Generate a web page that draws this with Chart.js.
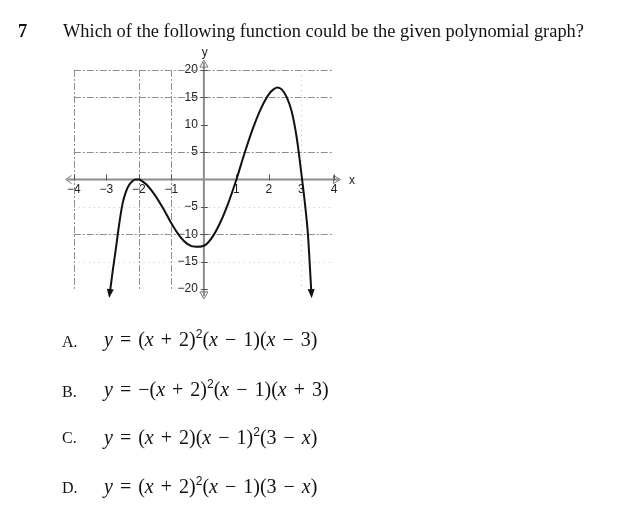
<!DOCTYPE html>
<html><head><meta charset="utf-8">
<script src="https://cdn.jsdelivr.net/npm/chart.js@4.4.1/dist/chart.umd.min.js"></script>
<style>
html,body{margin:0;padding:0;background:#fff;}
body{width:620px;height:529px;position:relative;overflow:hidden;font-family:"Liberation Serif","Times New Roman",serif;color:#111;}
#c{position:absolute;left:0;top:0;}
.t{position:absolute;white-space:nowrap;}
.q{font-size:18.4px;line-height:18px;}
.opt{font-size:16px;line-height:18px;}
.f{font-size:20px;line-height:20px;}
.f i{font-style:italic;}
.f b{font-weight:normal;margin:0 2px;}
.f sup{font-size:12px;line-height:0;vertical-align:8px;font-family:"Liberation Sans",sans-serif;}
</style>
</head><body>
<canvas id="c" width="620" height="529"></canvas>
<div class="t q" style="left:18px;top:22px;font-weight:bold;">7</div>
<div class="t q" style="left:63px;top:22px;">Which of the following function could be the given polynomial graph?</div>

<div class="t opt" style="left:62px;top:333px;">A.</div>
<div class="t f" style="left:104px;top:329px;"><i>y</i> <b>=</b> (<i>x</i> <b>+</b> 2)<sup>2</sup>(<i>x</i> <b>−</b> 1)(<i>x</i> <b>−</b> 3)</div>
<div class="t opt" style="left:62px;top:383px;">B.</div>
<div class="t f" style="left:104px;top:379px;"><i>y</i> <b>=</b> −(<i>x</i> <b>+</b> 2)<sup>2</sup>(<i>x</i> <b>−</b> 1)(<i>x</i> <b>+</b> 3)</div>
<div class="t opt" style="left:62px;top:429px;">C.</div>
<div class="t f" style="left:104px;top:427px;"><i>y</i> <b>=</b> (<i>x</i> <b>+</b> 2)(<i>x</i> <b>−</b> 1)<sup>2</sup>(3 <b>−</b> <i>x</i>)</div>
<div class="t opt" style="left:62px;top:479px;">D.</div>
<div class="t f" style="left:104px;top:476px;"><i>y</i> <b>=</b> (<i>x</i> <b>+</b> 2)<sup>2</sup>(<i>x</i> <b>−</b> 1)(3 <b>−</b> <i>x</i>)</div>

<script>
// Curve points
const curveX = [-2.88, -2.8, -2.7, -2.6, -2.5, -2.4, -2.3, -2.2, -2.1, -2, -1.9, -1.75, -1.5, -1.25, -1, -0.75, -0.5, -0.25, 0, 0.25, 0.5, 0.75, 1, 1.25, 1.5, 1.75, 2, 2.15, 2.27, 2.4, 2.55, 2.7, 2.85, 2.95, 3.02, 3.1, 3.2, 3.3];
const curveY = [-20.2, -16.6, -12.4, -8.0, -4.4, -2.3, -1.0, -0.3, 0, 0, -0.3, -1.0, -2.9, -5.3, -8.0, -10.3, -11.8, -12.3, -12.1, -10.6, -7.9, -4.3, 0, 4.8, 9.2, 12.9, 15.6, 16.5, 16.8, 16.4, 15.0, 12.4, 7.8, 3.4, 0, -4.0, -10.1, -20.2];
// Tick labels
const xTicks = [-4, -3, -2, -1, 1, 2, 3, 4];
const yTicks = [-20, -15, -10, -5, 5, 10, 15, 20];
// Grid lines that appear in the picture
const gridYMain = [20, 15, 5, -10];
const gridYFaint = [-15, -5];
const gridXMain = [-4, -2, -1];
const gridXFaint = [3];

const fmt = v => (v < 0 ? '\u2212' + (-v) : String(v));
const pts = curveX.map((x, i) => ({x, y: curveY[i]}));

const axesPlugin = {
  id: 'axesPlugin',
  beforeDatasetsDraw(chart) {
    const {ctx, scales: {x, y}} = chart;
    const px = v => x.getPixelForValue(v), py = v => y.getPixelForValue(v);
    ctx.save();
    // faint grid
    ctx.strokeStyle = '#c4c4c4'; ctx.lineWidth = 1; ctx.setLineDash([1, 4]);
    gridYFaint.forEach(v => { ctx.beginPath(); ctx.moveTo(px(-4), Math.round(py(v)) + 0.5); ctx.lineTo(px(4), Math.round(py(v)) + 0.5); ctx.stroke(); });
    gridXFaint.forEach(v => { ctx.beginPath(); ctx.moveTo(Math.round(px(v)) + 0.5, py(20)); ctx.lineTo(Math.round(px(v)) + 0.5, py(-20)); ctx.stroke(); });
    // main dashed grid
    ctx.strokeStyle = '#8e8e8e'; ctx.setLineDash([7, 2, 2, 2]);
    gridYMain.forEach(v => { ctx.beginPath(); ctx.moveTo(px(-4), Math.round(py(v)) + 0.5); ctx.lineTo(px(4), Math.round(py(v)) + 0.5); ctx.stroke(); });
    gridXMain.forEach(v => { ctx.beginPath(); ctx.moveTo(Math.round(px(v)) + 0.5, py(20)); ctx.lineTo(Math.round(px(v)) + 0.5, py(-20)); ctx.stroke(); });
    ctx.setLineDash([]);
    // axes
    const x0 = px(0), y0 = py(0);
    ctx.strokeStyle = '#8c8c8c'; ctx.lineWidth = 2;
    ctx.beginPath(); ctx.moveTo(px(-4.2), y0); ctx.lineTo(px(4.15), y0); ctx.stroke();
    ctx.beginPath(); ctx.moveTo(x0, py(21.4)); ctx.lineTo(x0, py(-21.3)); ctx.stroke();
    // arrowheads of axes (open)
    ctx.lineWidth = 1; ctx.strokeStyle = '#777';
    let L = px(-4.25);
    ctx.beginPath(); ctx.moveTo(L + 6, y0 - 4); ctx.lineTo(L, y0); ctx.lineTo(L + 6, y0 + 4); ctx.stroke();
    let R = px(4.2);
    ctx.beginPath(); ctx.moveTo(R - 7, y0 - 4); ctx.lineTo(R, y0); ctx.lineTo(R - 7, y0 + 4); ctx.closePath(); ctx.stroke();
    let T = py(21.8);
    ctx.beginPath(); ctx.moveTo(x0 - 4, T + 7); ctx.lineTo(x0, T); ctx.lineTo(x0 + 4, T + 7); ctx.closePath(); ctx.stroke();
    let B = py(-21.8);
    ctx.beginPath(); ctx.moveTo(x0 - 4, B - 7); ctx.lineTo(x0, B); ctx.lineTo(x0 + 4, B - 7); ctx.closePath(); ctx.stroke();
    // tick marks
    ctx.strokeStyle = '#555'; ctx.lineWidth = 1;
    xTicks.forEach(v => { const p = Math.round(px(v)) + 0.5; ctx.beginPath(); ctx.moveTo(p, y0 - 5); ctx.lineTo(p, y0 + 1); ctx.stroke(); });
    yTicks.forEach(v => { const p = Math.round(py(v)) + 0.5; ctx.beginPath(); ctx.moveTo(x0 - 3, p); ctx.lineTo(x0 + 4, p); ctx.stroke(); });
    // axis names
    ctx.fillStyle = '#222'; ctx.font = '12px "Liberation Sans", sans-serif';
    ctx.textAlign = 'center'; ctx.textBaseline = 'middle';
    ctx.fillText('y', x0 + 1, py(23.2));
    ctx.fillText('x', px(4.55), y0 + 1);
    ctx.restore();
  },
  afterDatasetsDraw(chart) {
    const {ctx, scales: {x, y}} = chart;
    const P = pts.map(p => ({X: x.getPixelForValue(p.x), Y: y.getPixelForValue(p.y)}));
    const head = (a, b) => {
      const dx = a.X - b.X, dy = a.Y - b.Y, len = Math.hypot(dx, dy);
      const ux = dx / len, uy = dy / len;
      const tipX = a.X + ux * 8, tipY = a.Y + uy * 8;
      const bx = a.X - ux * 1, by = a.Y - uy * 1;
      ctx.beginPath();
      ctx.moveTo(tipX, tipY);
      ctx.lineTo(bx - uy * 3.5, by + ux * 3.5);
      ctx.lineTo(bx + uy * 3.5, by - ux * 3.5);
      ctx.closePath(); ctx.fill();
    };
    ctx.save(); ctx.fillStyle = '#111';
    head(P[0], P[1]);
    head(P[P.length - 1], P[P.length - 2]);
    ctx.restore();
  }
};

new Chart(document.getElementById('c'), {
  type: 'line',
  data: {datasets: [{data: pts, borderColor: '#111', borderWidth: 2, pointRadius: 0, cubicInterpolationMode: 'monotone', fill: false}]},
  options: {
    responsive: false, animation: false, devicePixelRatio: 1,
    layout: {padding: {left: 64, right: 273, top: 59, bottom: 229}},
    plugins: {legend: {display: false}, tooltip: {enabled: false}},
    scales: {
      x: {type: 'linear', min: -4.3, max: 4.4, position: {y: 0},
        grid: {display: false, drawTicks: false}, border: {display: false},
        afterBuildTicks: s => { s.ticks = xTicks.map(v => ({value: v})); },
        ticks: {autoSkip: false, maxRotation: 0, padding: 3, color: '#222', font: {family: '"Liberation Sans", sans-serif', size: 12}, callback: v => fmt(v)}},
      y: {type: 'linear', min: -22, max: 22, position: {x: 0},
        grid: {display: false, drawTicks: false}, border: {display: false},
        afterBuildTicks: s => { s.ticks = yTicks.map(v => ({value: v})); },
        ticks: {autoSkip: false, padding: 6, color: '#222', font: {family: '"Liberation Sans", sans-serif', size: 12}, callback: v => fmt(v) + '\u2002'}}
    }
  },
  plugins: [axesPlugin]
});
</script>
</body></html>
